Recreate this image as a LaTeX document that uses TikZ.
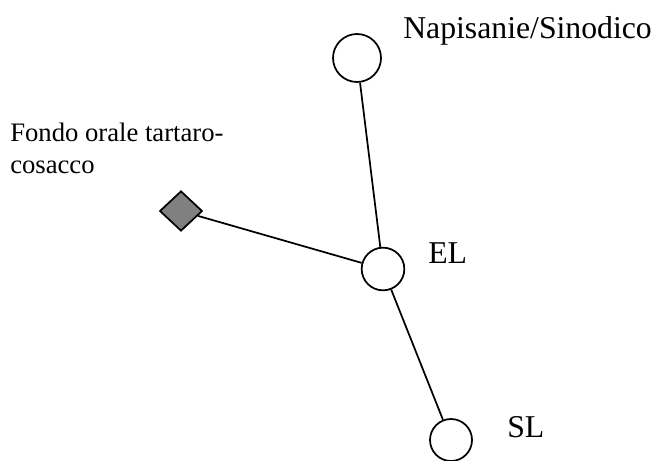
\documentclass[tikz,border=0pt]{standalone}
\usepackage{fontspec}
\setmainfont{Liberation Serif}
\usepackage{xcolor}
\usetikzlibrary{shapes.geometric}
\definecolor{inkline}{HTML}{000000}
\definecolor{sourcegray}{HTML}{808080}
\tikzset{
  witness/.style={
    circle,
    draw=inkline,
    fill=white,
    line width=1.3pt,
    inner sep=0pt
  },
  oralsource/.style={
    diamond,
    draw=inkline,
    fill=sourcegray,
    line width=1.3pt,
    inner sep=0pt,
    minimum width=32,
    minimum height=30
  },
  stemma/.style={line width=1.3pt, draw=inkline},
  siglum/.style={anchor=base west, inner sep=0pt, font=\fontsize{23.8}{27}\selectfont},
  notelabel/.style={anchor=base west, inner sep=0pt, align=left,
    font=\fontsize{20}{23.3}\selectfont}
}

\begin{document}
\begin{tikzpicture}[x=0.75pt,y=-0.75pt]
  \useasboundingbox (0,0) rectangle (655,460);
  \clip (0,0) rectangle (655,460);

  \node[witness, minimum size=36pt] (nap) at (357,58) {};
  \node[witness, minimum size=32pt] (el) at (383,269) {};
  \node[witness, minimum size=31.5pt] (sl) at (451,440) {};
  \node[oralsource] (fondo) at (181,211) {};

  \draw[stemma] (nap) -- (el);
  \draw[stemma] (fondo) -- (el);
  \draw[stemma] (el) -- (sl);

  \node[siglum] (napl) at (403,39) {Napisanie/Sinodico};
  \node[siglum] (ell) at (428,263) {EL};
  \node[siglum] (sll) at (507,437) {SL};
  % base of a two-line label sits on its last line
  \node[notelabel] (fondol) at (10,173) {Fondo orale tartaro-\\cosacco};
\end{tikzpicture}
\end{document}
